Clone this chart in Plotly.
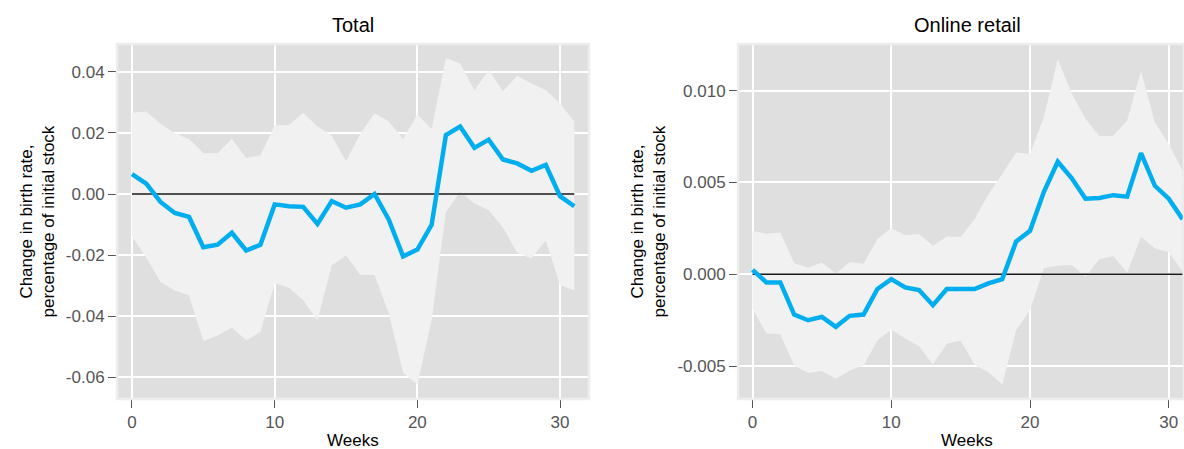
import plotly.graph_objects as go

# Event-study estimates by week, with confidence band bounds
weeks = list(range(32))

total_est = [0.0065, 0.0034, -0.0026, -0.0062, -0.0075, -0.0174, -0.0166, -0.0127,
             -0.0185, -0.0166, -0.0034, -0.0040, -0.0042, -0.0098, -0.0023, -0.0045,
             -0.0034, 0.0000, -0.0084, -0.0204, -0.0182, -0.0101, 0.0193, 0.0221,
             0.0151, 0.0178, 0.0113, 0.0100, 0.0076, 0.0095, -0.0007, -0.0040]
total_hi = [0.0266, 0.0270, 0.0230, 0.0199, 0.0180, 0.0134, 0.0133, 0.0180,
            0.0118, 0.0127, 0.0224, 0.0226, 0.0266, 0.0221, 0.0191, 0.0107,
            0.0197, 0.0264, 0.0237, 0.0180, 0.0260, 0.0213, 0.0444, 0.0427,
            0.0340, 0.0405, 0.0337, 0.0387, 0.0362, 0.0340, 0.0296, 0.0237]
total_lo = [-0.0138, -0.0208, -0.0288, -0.0316, -0.0332, -0.0481, -0.0463, -0.0437,
            -0.0479, -0.0452, -0.0292, -0.0307, -0.0347, -0.0413, -0.0234, -0.0201,
            -0.0265, -0.0265, -0.0391, -0.0584, -0.0624, -0.0413, -0.0059, 0.0007,
            -0.0031, -0.0053, -0.0110, -0.0193, -0.0210, -0.0152, -0.0298, -0.0316]

online_est = [0.00024, -0.00044, -0.00044, -0.00219, -0.00250, -0.00232, -0.00286, -0.00226,
              -0.00219, -0.00080, -0.00026, -0.00071, -0.00086, -0.00168, -0.00080, -0.00077,
              -0.00080, -0.00049, -0.00026, 0.00179, 0.00237, 0.00449, 0.00613, 0.00524,
              0.00412, 0.00416, 0.00431, 0.00423, 0.00660, 0.00482, 0.00412, 0.00300]
online_hi = [0.00237, 0.00221, 0.00228, 0.00060, 0.00036, 0.00064, 0.00005, 0.00066,
             0.00057, 0.00192, 0.00252, 0.00212, 0.00219, 0.00155, 0.00206, 0.00203,
             0.00300, 0.00436, 0.00546, 0.00664, 0.00655, 0.00856, 0.01172, 0.00984,
             0.00847, 0.00752, 0.00755, 0.00838, 0.01106, 0.00828, 0.00710, 0.00564]
online_lo = [-0.00186, -0.00323, -0.00327, -0.00496, -0.00538, -0.00527, -0.00569, -0.00524,
             -0.00496, -0.00360, -0.00301, -0.00350, -0.00392, -0.00491, -0.00378, -0.00360,
             -0.00493, -0.00533, -0.00600, -0.00305, -0.00195, 0.00033, 0.00047, 0.00051,
             -0.00013, 0.00082, 0.00100, 0.00009, 0.00203, 0.00142, 0.00120, 0.00015]

panel_titles = ["Total", "Online retail"]
x_title = "Weeks"
y_title = "Change in birth rate,<br>percentage of initial stock"

x_ticks = [0, 10, 20, 30]
x_ticktext = ["0", "10", "20", "30"]
total_yticks = [-0.06, -0.04, -0.02, 0.00, 0.02, 0.04]
total_yticktext = ["-0.06", "-0.04", "-0.02", "0.00", "0.02", "0.04"]
online_yticks = [-0.005, 0.000, 0.005, 0.010]
online_yticktext = ["-0.005", "0.000", "0.005", "0.010"]

W, H = 1184, 449
BLUE = "#00AEEF"
BAND = "#F1F1F1"
PANEL = "#DFDFDF"
FONT = "Liberation Sans, Arial, sans-serif"

fig = go.Figure()

panels = [
    (total_est, total_lo, total_hi, "x", "y"),
    (online_est, online_lo, online_hi, "x2", "y2"),
]
for est, lo, hi, xa, ya in panels:
    fig.add_trace(go.Scatter(x=weeks, y=lo, mode="lines", line=dict(width=0),
                             hoverinfo="skip", showlegend=False, xaxis=xa, yaxis=ya))
    fig.add_trace(go.Scatter(x=weeks, y=hi, mode="lines", line=dict(width=0),
                             fill="tonexty", fillcolor=BAND, hoverinfo="skip",
                             showlegend=False, xaxis=xa, yaxis=ya))
    fig.add_trace(go.Scatter(x=[weeks[0], weeks[-1]], y=[0, 0], mode="lines",
                             line=dict(color="#1a1a1a", width=1.5),
                             hoverinfo="skip", showlegend=False, xaxis=xa, yaxis=ya))
    fig.add_trace(go.Scatter(x=weeks, y=est, mode="lines",
                             line=dict(color=BLUE, width=4.5),
                             showlegend=False, xaxis=xa, yaxis=ya))

top_px, bot_px = 44, 399
ydom = [1 - bot_px / H, 1 - top_px / H]
left_dom = [117 / W, 589 / W]
right_dom = [738 / W, 1.0]

axis_common = dict(
    showgrid=True, gridcolor="white", gridwidth=1.5,
    zeroline=False, showline=False,
    ticks="outside", ticklen=8, tickwidth=1.3, tickcolor="#555555",
    tickfont=dict(family=FONT, size=17, color="#555555"),
)

fig.update_layout(
    width=W, height=H,
    margin=dict(l=0, r=0, t=0, b=0),
    paper_bgcolor="white",
    plot_bgcolor=PANEL,
    font=dict(family=FONT),
    xaxis=dict(domain=left_dom, anchor="y", range=[-1.05, 32.03],
               tickvals=x_ticks, ticktext=x_ticktext, **axis_common),
    yaxis=dict(domain=ydom, anchor="x", range=[-0.0671, 0.0491],
               tickvals=total_yticks, ticktext=total_yticktext, **axis_common),
    xaxis2=dict(domain=right_dom, anchor="y2", range=[-1.05, 31.1],
                tickvals=x_ticks, ticktext=x_ticktext, **axis_common),
    yaxis2=dict(domain=ydom, anchor="x2", range=[-0.00679, 0.01254],
                tickvals=online_yticks, ticktext=online_yticktext, **axis_common),
)

# Soft light frame around each panel
for xr, yr in [("x domain", "y domain"), ("x2 domain", "y2 domain")]:
    fig.add_shape(type="rect", xref=xr, yref=yr, x0=0, x1=1, y0=0, y1=1,
                  line=dict(color="#EDEDED", width=2.5), layer="above")

# Panel titles, axis titles
centers = [(left_dom[0] + left_dom[1]) / 2, 967 / W]
for cx, title in zip(centers, panel_titles):
    fig.add_annotation(x=cx, y=1 - 25 / H, xref="paper", yref="paper", text=title,
                       showarrow=False, font=dict(family=FONT, size=20, color="black"),
                       xanchor="center", yanchor="middle")
    fig.add_annotation(x=cx, y=1 - 440 / H, xref="paper", yref="paper", text=x_title,
                       showarrow=False, font=dict(family=FONT, size=17, color="black"),
                       xanchor="center", yanchor="middle")

for yx in [37 / W, 648 / W]:
    fig.add_annotation(x=yx, y=(ydom[0] + ydom[1]) / 2, xref="paper", yref="paper",
                       text=y_title, textangle=-90, showarrow=False,
                       font=dict(family=FONT, size=17, color="black"),
                       xanchor="center", yanchor="middle")

fig.write_html("out.html")
